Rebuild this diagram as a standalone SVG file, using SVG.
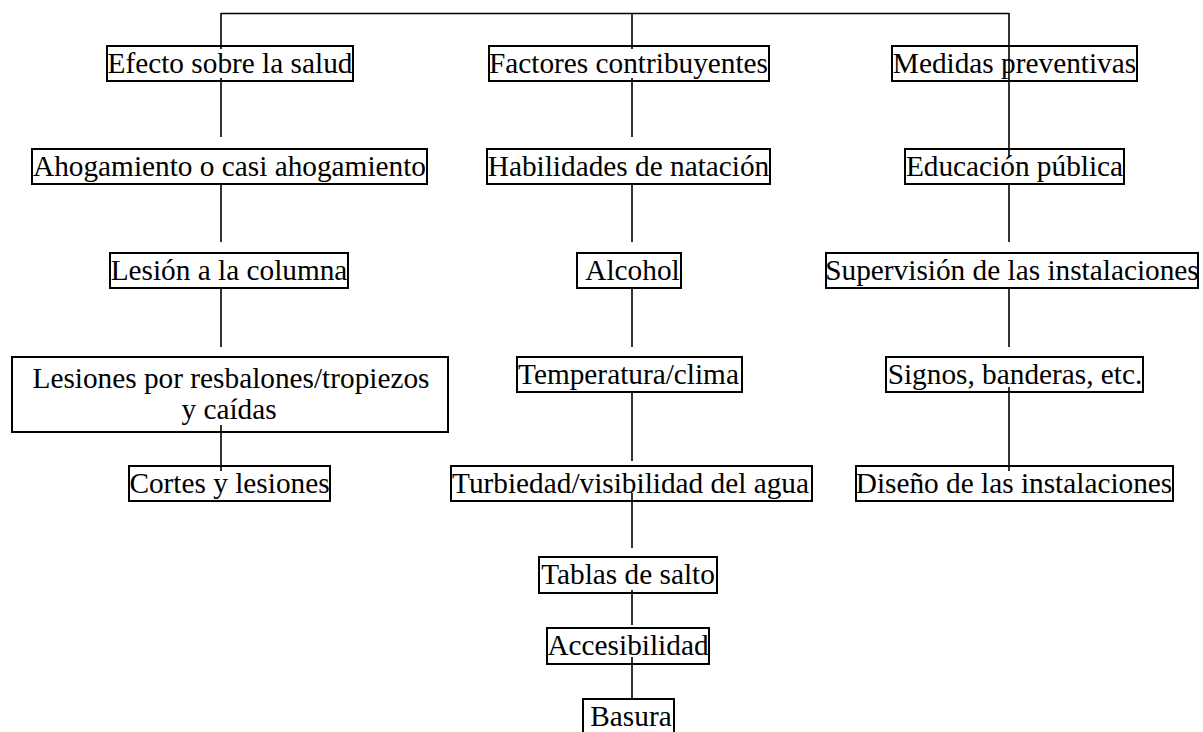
<svg xmlns="http://www.w3.org/2000/svg" width="1203" height="732" viewBox="0 0 1203 732">
<style>
.box{fill:none;stroke:#000;stroke-width:2}
.ln{stroke:#000;stroke-width:1.6;fill:none}
.t{font-family:'Liberation Serif','Times New Roman',Times,serif;font-size:29.3px;fill:#000;text-anchor:middle}
</style>
<rect width="1203" height="732" fill="#fff"/>
<g id="connectors">
<path class="ln" d="M221,13.5 H1009"/>
<path class="ln" d="M221,13 V49 M221,78 V137 M221,184 V242 M221,288 V347 M221,425 V471"/>
<path class="ln" d="M632,13 V49 M632,78 V137 M632,184 V242 M632,288 V347 M632,392 V461 M632,493 V548 M632,590 V625 M632,657 V700"/>
<path class="ln" d="M1009,13 V157 M1009,184 V242 M1009,288 V347 M1009,387 V471"/>
</g>
<g class="t">
<g id="n-efecto"><rect class="box" x="107" y="46" width="246" height="35"/><text x="230" y="73">Efecto sobre la salud</text></g>
<g id="n-factores"><rect class="box" x="489" y="46" width="280" height="35"/><text x="628.5" y="73">Factores contribuyentes</text></g>
<g id="n-medidas"><rect class="box" x="892" y="46" width="245" height="35"/><text x="1014.5" y="73">Medidas preventivas</text></g>
<g id="n-ahogamiento"><rect class="box" x="32" y="149" width="395" height="35"/><text x="229.5" y="176">Ahogamiento o casi ahogamiento</text></g>
<g id="n-habilidades"><rect class="box" x="487" y="149" width="283" height="35"/><text x="628.5" y="176">Habilidades de natación</text></g>
<g id="n-educacion"><rect class="box" x="905" y="149" width="219" height="35"/><text x="1014.5" y="176">Educación pública</text></g>
<g id="n-lesion"><rect class="box" x="110" y="253" width="238" height="35"/><text x="229" y="280">Lesión a la columna</text></g>
<g id="n-alcohol"><rect class="box" x="577" y="253" width="104" height="35"/><text x="632.5" y="280">Alcohol</text></g>
<g id="n-supervision"><rect class="box" x="826" y="253" width="372" height="35"/><text x="1012" y="280">Supervisión de las instalaciones</text></g>
<g id="n-lesiones"><rect class="box" x="12" y="357" width="436" height="75"/><text x="231" y="388">Lesiones por resbalones/tropiezos</text><text x="229" y="419">y caídas</text></g>
<g id="n-temperatura"><rect class="box" x="517" y="357" width="225" height="35"/><text x="628.5" y="384">Temperatura/clima</text></g>
<g id="n-signos"><rect class="box" x="886" y="357" width="257" height="35"/><text x="1015" y="384">Signos, banderas, etc.</text></g>
<g id="n-cortes"><rect class="box" x="129" y="466" width="201" height="35"/><text x="229.5" y="493">Cortes y lesiones</text></g>
<g id="n-turbiedad"><rect class="box" x="451" y="466" width="361" height="35"/><text x="630.5" y="493">Turbiedad/visibilidad del agua</text></g>
<g id="n-diseno"><rect class="box" x="856" y="466" width="317" height="35"/><text x="1014" y="493">Diseño de las instalaciones</text></g>
<g id="n-tablas"><rect class="box" x="539" y="557" width="178" height="36"/><text x="628" y="584">Tablas de salto</text></g>
<g id="n-accesibilidad"><rect class="box" x="547" y="628" width="162" height="36"/><text x="628" y="655">Accesibilidad</text></g>
<g id="n-basura"><rect class="box" x="583" y="699" width="91" height="40"/><text x="631" y="726">Basura</text></g>
</g>
</svg>
